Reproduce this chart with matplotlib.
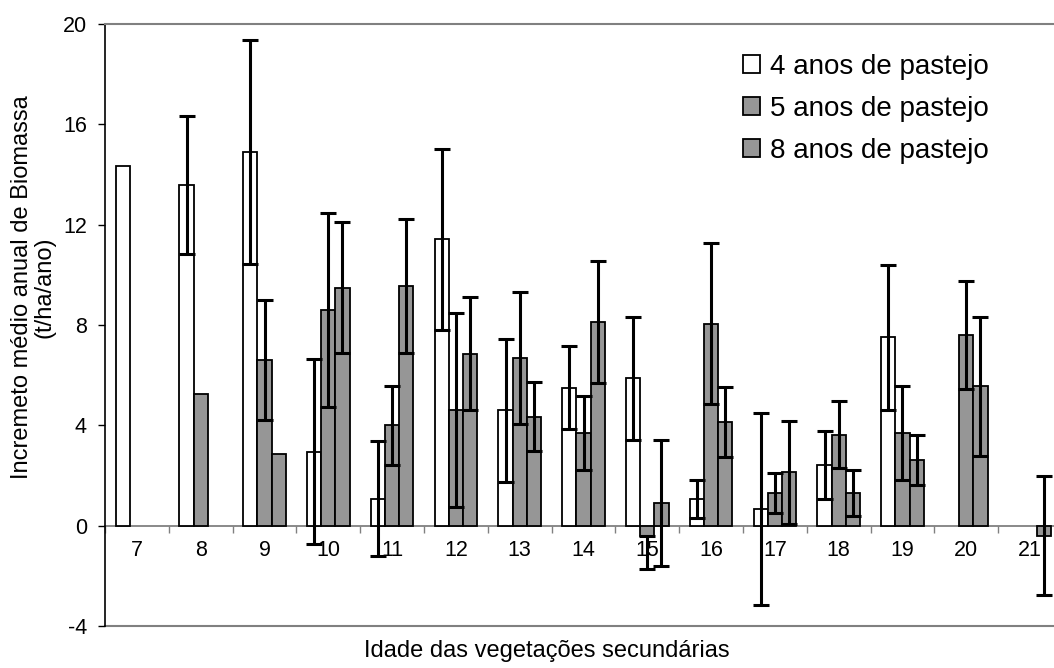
import numpy as np
import matplotlib
matplotlib.use("Agg")
from matplotlib import pyplot as plt
from matplotlib.patches import Patch

plt.rcParams['font.family'] = ['Liberation Sans', 'DejaVu Sans']
plt.rcParams['axes.unicode_minus'] = False

# idade das vegetações secundárias (anos)
idades = [7, 8, 9, 10, 11, 12, 13, 14, 15, 16, 17, 18, 19, 20, 21]

# incremento médio anual (t/ha/ano) e desvio de cada grupo
inc_4anos = [14.35, 13.6, 14.9, 2.95, 1.08, 11.42, 4.6, 5.5, 5.87, 1.06, 0.68, 2.42, 7.52, np.nan, np.nan]
err_4anos = [np.nan, 2.75, 4.45, 3.68, 2.28, 3.6, 2.86, 1.65, 2.45, 0.76, 3.83, 1.36, 2.89, np.nan, np.nan]

inc_5anos = [np.nan, 5.26, 6.61, 8.6, 4.0, 4.6, 6.69, 3.69, -0.43, 8.05, 1.3, 3.63, 3.69, 7.6, np.nan]
err_5anos_baixo = [np.nan, np.nan, 2.38, 3.87, 1.58, 3.87, 2.63, 1.46, 1.28, 3.2, 0.8, 1.33, 1.88, 2.17, np.nan]
err_5anos_cima = [np.nan, np.nan, 2.38, 3.87, 1.58, 3.87, 2.63, 1.46, 0.0, 3.2, 0.8, 1.33, 1.88, 2.17, np.nan]

inc_8anos = [np.nan, np.nan, 2.87, 9.48, 9.56, 6.85, 4.35, 8.12, 0.9, 4.14, 2.12, 1.3, 2.63, 5.55, -0.4]
err_8anos = [np.nan, np.nan, np.nan, 2.61, 2.66, 2.25, 1.36, 2.45, 2.5, 1.4, 2.04, 0.91, 1.0, 2.78, 2.37]

legenda = ['4 anos de pastejo', '5 anos de pastejo', '8 anos de pastejo']

CINZA = '#969696'
BORDA = '#808080'


def barras_com_erro(ax, xs, vals, err_lo, err_hi, cor):
    vals = np.array(vals, dtype=float)
    ok = ~np.isnan(vals)
    ax.bar(xs[ok], vals[ok], largura, color=cor, edgecolor='black',
           linewidth=1.3, zorder=2)
    lo = np.array(err_lo, dtype=float)
    hi = np.array(err_hi, dtype=float)
    tem = ok & ~np.isnan(lo)
    ax.errorbar(xs[tem], vals[tem], yerr=[lo[tem], hi[tem]], fmt='none',
                ecolor='black', elinewidth=2.2, capsize=5.6, capthick=2.2,
                zorder=3)


fig = plt.figure(figsize=(10.54, 6.68), dpi=100)
ax = fig.add_axes([105 / 1054, 42 / 668, 957 / 1054, 602 / 668])

x = np.arange(len(idades))
largura = 0.222

barras_com_erro(ax, x - largura, inc_4anos, err_4anos, err_4anos, 'white')
barras_com_erro(ax, x, inc_5anos, err_5anos_baixo, err_5anos_cima, CINZA)
barras_com_erro(ax, x + largura, inc_8anos, err_8anos, err_8anos, CINZA)

ax.set_xlim(-0.5, len(idades) - 0.5)
ax.set_ylim(-4, 20)
ax.set_yticks(np.arange(-4, 21, 4))
ax.tick_params(axis='y', direction='out', length=5, width=1, labelsize=15.5,
               pad=8)

# eixo das categorias passa pelo zero
ax.spines['bottom'].set_position(('data', 0))
ax.spines['bottom'].set_color(BORDA)
ax.spines['bottom'].set_linewidth(1.3)
ax.spines['bottom'].set_zorder(1)
ax.set_xticks(x)
ax.set_xticklabels([str(i) for i in idades])
ax.set_xticks(np.arange(-0.5, len(idades), 1), minor=True)
ax.tick_params(axis='x', which='major', length=0, labelsize=15.5, pad=10)
ax.tick_params(axis='x', which='minor', direction='out', length=5,
               width=1, color=BORDA)

ax.spines['top'].set_color(BORDA)
ax.spines['top'].set_linewidth(1.5)
ax.spines['right'].set_visible(False)
ax.spines['left'].set_color('black')
ax.spines['left'].set_linewidth(1.2)
# moldura inferior da área do gráfico
ax.axhline(-4, color=BORDA, linewidth=1.5, clip_on=False, zorder=1)

fig.text(33 / 1054, 1 - 287 / 668,
         'Incremeto médio anual de Biomassa\n(t/ha/ano)',
         rotation=90, ha='center', va='center', multialignment='center',
         fontsize=17, linespacing=1.05)
fig.text(547 / 1054, 1 - 651 / 668, 'Idade das vegetações secundárias',
         ha='center', va='center', fontsize=17)

handles = [Patch(facecolor='white', edgecolor='black', linewidth=1.3),
           Patch(facecolor=CINZA, edgecolor='black', linewidth=1.3),
           Patch(facecolor=CINZA, edgecolor='black', linewidth=1.3)]
ax.legend(handles, legenda, loc='upper left',
          bbox_to_anchor=(743 / 1054, 1 - 54 / 668),
          bbox_transform=fig.transFigure, frameon=False, fontsize=20,
          handlelength=0.62, handleheight=0.62, handletextpad=0.35,
          labelspacing=0.58, borderpad=0, borderaxespad=0)

fig.savefig('out.png', dpi=100)
